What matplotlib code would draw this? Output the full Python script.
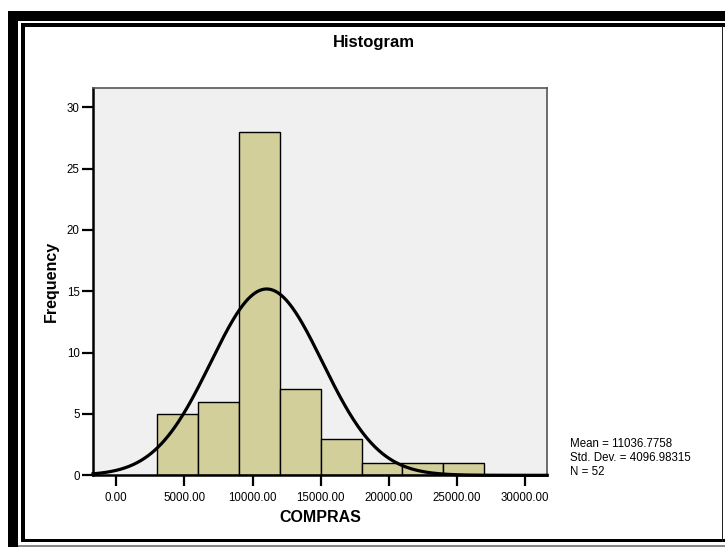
import numpy as np
import matplotlib
matplotlib.use("Agg")
import matplotlib.pyplot as plt
from matplotlib.patches import Rectangle

plt.rcParams['font.family'] = ['Liberation Sans', 'DejaVu Sans']

# histogram of COMPRAS, bins of 3000
bin_edges = [3000, 6000, 9000, 12000, 15000, 18000, 21000, 24000, 27000]
counts = [5, 6, 28, 7, 3, 1, 1, 1]
mean_val = 11036.7758
std_val = 4096.98315
n_val = 52
x_ticks = [0, 5000, 10000, 15000, 20000, 25000, 30000]
y_ticks = [0, 5, 10, 15, 20, 25, 30]

W, H = 725, 547
fig = plt.figure(figsize=(W / 100, H / 100), dpi=100)
fig.patch.set_facecolor('white')


def px_rect(x0, y0, x1, y1, color):
    # rectangle given in pixel coords (origin top-left)
    fig.patches.append(Rectangle((x0 / W, 1 - y1 / H), (x1 - x0) / W, (y1 - y0) / H,
                                 transform=fig.transFigure, facecolor=color,
                                 edgecolor='none', zorder=0))


# outer frame
px_rect(8, 11, 725, 21, 'black')
px_rect(8, 11, 18, 547, 'black')
# inner frame
px_rect(21, 23, 725, 26.5, 'black')
px_rect(21, 23, 25, 542, 'black')
px_rect(21, 539, 725, 542, 'black')
px_rect(721.5, 26, 723, 542, '#222222')
px_rect(18, 545, 725, 546.5, '#888888')

ax = fig.add_axes([93 / W, 1 - 475.3 / H, (547 - 93) / W, (475.3 - 87.7) / H])
ax.set_facecolor('#f0f0f0')

widths = np.diff(bin_edges)
ax.bar(bin_edges[:-1], counts, width=widths, align='edge', color='#d3cf9b',
       edgecolor='black', linewidth=1.0, zorder=2)

# normal curve from the reported mean / std dev
xs = np.linspace(-1700, 31600, 400)
ys = n_val * 3000 / (std_val * np.sqrt(2 * np.pi)) * np.exp(-0.5 * ((xs - mean_val) / std_val) ** 2)
ax.plot(xs, ys, color='black', linewidth=2.3, zorder=3, clip_on=False)

ax.set_xlim(-1700, 31600)
ax.set_ylim(0, 31.6)
ax.set_xticks(x_ticks)
ax.set_xticklabels([f"{v:.2f}" for v in x_ticks])
ax.set_yticks(y_ticks)
ax.set_yticklabels([str(v) for v in y_ticks])
ax.tick_params(axis='both', direction='out', length=8, width=1.6, labelsize=8.3, colors='black')
ax.tick_params(axis='x', pad=4)
ax.tick_params(axis='y', pad=1.5)

for s in ['left', 'bottom']:
    ax.spines[s].set_linewidth(1.8)
    ax.spines[s].set_color('black')
for s in ['top', 'right']:
    ax.spines[s].set_linewidth(1.2)
    ax.spines[s].set_color('#555555')

fig.text(374 / W, 1 - 43 / H, 'Histogram', ha='center', va='center',
         fontsize=12, fontweight='bold')
fig.text(320 / W, 1 - 518 / H, 'COMPRAS', ha='center', va='center',
         fontsize=11.5, fontweight='bold')
fig.text(51.7 / W, 1 - 281 / H, 'Frequency', ha='center', va='center',
         rotation=90, fontsize=11.5, fontweight='bold')

stats = [f"Mean = {mean_val}", f"Std. Dev. = {std_val}", f"N = {n_val}"]
for i, line in enumerate(stats):
    fig.text(570.5 / W, 1 - (444 + 14 * i) / H, line, ha='left', va='center', fontsize=8.3)

fig.savefig('out.png', dpi=100)
